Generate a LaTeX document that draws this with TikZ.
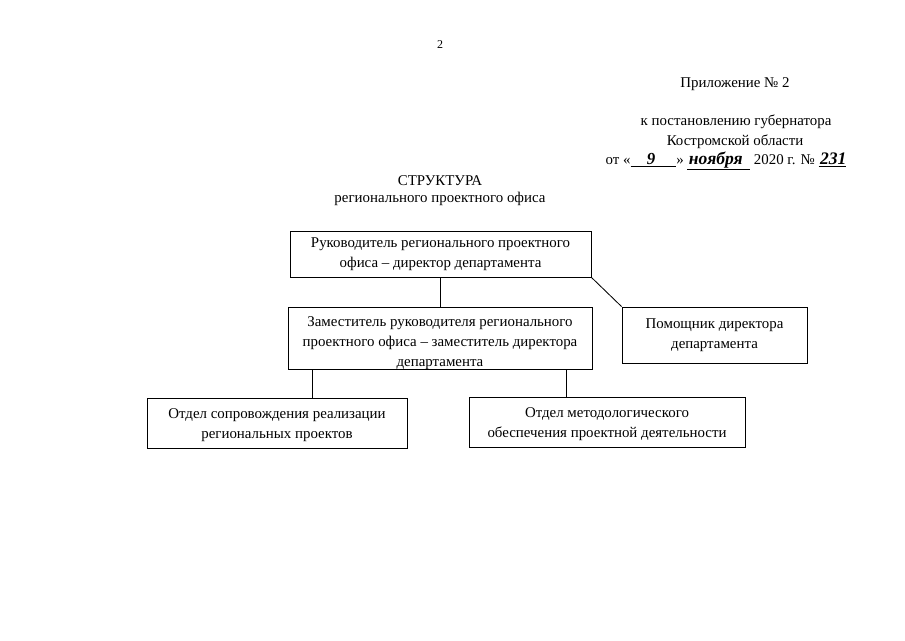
\documentclass[tikz,border=0pt]{standalone}
\usepackage{fontspec}
\setmainfont{Liberation Serif}
\begin{document}
\begin{tikzpicture}[x=0.025cm,y=-0.025cm,
  box/.style={draw,line width=0.6pt,align=center,inner sep=0pt,font=\fontsize{10.6}{14.2}\selectfont},
  txt/.style={inner sep=0pt,font=\fontsize{10.6}{14.2}\selectfont}]
\useasboundingbox (0,0) rectangle (905,640);

\node[inner sep=0pt,font=\fontsize{8.5}{10}\selectfont] (page) at (440,45) {2};

\node[txt] (app) at (735,84) {Приложение № 2};
\node[txt] (to) at (736,122) {к постановлению губернатора};
\node[txt] (reg) at (735,142) {Костромской области};
\node[txt] (date) at (726,161) {от «\underline{\hspace{1.1em}{\fontsize{12}{14}\selectfont\bfseries\itshape 9}\hspace{1.4em}}» \underline{\hspace{0.1em}{\fontsize{12.5}{14}\selectfont\bfseries\itshape ноября}\hspace{0.5em}} 2020 г. № \underline{\hspace{0.1em}{\fontsize{12.5}{14}\selectfont\bfseries\itshape 231}}};

\node[txt] (title) at (440,181) {СТРУКТУРА};
\node[txt] (sub) at (440,199) {регионального проектного офиса};

\node[box,minimum width=7.525cm,minimum height=1.15cm] (ruk) at (440.5,254)
  {Руководитель регионального проектного\\офиса -- директор департамента};
\node[box,minimum width=7.6cm,minimum height=1.525cm] (zam) at (440,338.5)
  {\rule{0pt}{14pt}Заместитель руководителя регионального\\проектного офиса -- заместитель директора\\департамента};
\node[box,minimum width=4.625cm,minimum height=1.4cm] (pom) at (714.5,335)
  {Помощник директора\\департамента};
\node[box,minimum width=6.5cm,minimum height=1.25cm] (otd1) at (277,423)
  {\rule{0pt}{10.5pt}Отдел сопровождения реализации\\региональных проектов};
\node[box,minimum width=6.9cm,minimum height=1.25cm] (otd2) at (607,422)
  {\rule{0pt}{10.5pt}Отдел методологического\\обеспечения проектной деятельности};

\draw[line width=0.6pt] (ruk.south) -- (ruk.south |- zam.north);
\draw[line width=0.6pt] (ruk.south east) -- (pom.north west);

\coordinate (z1) at ([xshift=0.625cm]zam.south west);
\coordinate (z2) at ([xshift=-0.65cm]zam.south east);
\draw[line width=0.6pt] (z1) -- (z1 |- otd1.north);
\draw[line width=0.6pt] (z2) -- (z2 |- otd2.north);
\end{tikzpicture}
\end{document}
